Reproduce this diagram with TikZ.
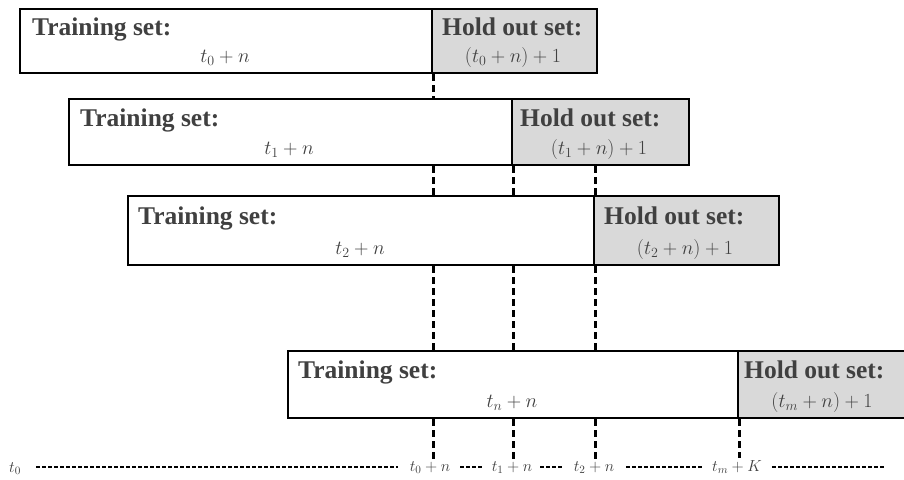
\RequirePackage{fix-cm}
\documentclass[tikz,border=0pt]{standalone}
\usepackage{fontspec}
\setmainfont{Liberation Serif}
\usetikzlibrary{calc}
\definecolor{txt}{HTML}{404040}
\definecolor{holdfill}{HTML}{D9D9D9}
\tikzset{
  trainbox/.style={draw=black, line width=2.2pt, fill=white, inner sep=0pt, anchor=north west},
  holdbox/.style={draw=black, line width=2.2pt, fill=holdfill, inner sep=0pt, anchor=north west},
  title/.style={anchor=base west, inner sep=0pt, text=txt, font=\fontsize{25.5}{29}\selectfont\bfseries},
  mathlab/.style={anchor=base, inner sep=0pt, text=txt, font=\fontsize{20}{24}\selectfont},
  vdash/.style={line width=2.6pt, dash pattern=on 7pt off 4pt},
  axlab/.style={inner sep=0pt, anchor=base, text=txt, font=\fontsize{16}{18}\selectfont},
  axdash/.style={line width=1.3pt, dash pattern=on 4pt off 2pt},
}
\begin{document}
\begin{tikzpicture}[x=1pt,y=-1pt]
\useasboundingbox (0,0) rectangle (904,479);
% row 1
\node[trainbox, minimum width=412pt, minimum height=64pt] (tr1) at (19,8) {};
\node[holdbox, minimum width=165pt, minimum height=64pt] (ho1) at (431,8) {};
% row 2
\node[trainbox, minimum width=443pt, minimum height=66pt] (tr2) at (68,98) {};
\node[holdbox, minimum width=177pt, minimum height=66pt] (ho2) at (511,98) {};
% row 3
\node[trainbox, minimum width=466pt, minimum height=69pt] (tr3) at (127,195) {};
\node[holdbox, minimum width=185pt, minimum height=69pt] (ho3) at (593,195) {};
% row 4
\node[trainbox, minimum width=450pt, minimum height=67pt] (tr4) at (287,350) {};
\node[holdbox, minimum width=172pt, minimum height=67pt] (ho4) at (737,350) {};

% texts
\node[title] (tt1) at (32,35) {Training set:};
\node[mathlab] (tm1) at (225,62) {$t_0+n$};
\node[title] (ht1) at (442,35) {Hold out set:};
\node[mathlab] (hm1) at (513,62) {$(t_0+n)+1$};

\node[title] (tt2) at (80,126) {Training set:};
\node[mathlab] (tm2) at (289,154) {$t_1+n$};
\node[title] (ht2) at (520,126) {Hold out set:};
\node[mathlab] (hm2) at (599,154) {$(t_1+n)+1$};

\node[title] (tt3) at (138,224) {Training set:};
\node[mathlab] (tm3) at (360,254) {$t_2+n$};
\node[title] (ht3) at (604,224) {Hold out set:};
\node[mathlab] (hm3) at (685,254) {$(t_2+n)+1$};

\node[title] (tt4) at (298,378) {Training set:};
\node[mathlab] (tm4) at (512,407) {$t_n+n$};
\node[title] (ht4) at (744,378) {Hold out set:};
\node[mathlab] (hm4) at (822,407) {$(t_m+n)+1$};

% axis labels
\node[axlab] (a0) at (15,472) {$t_0$};
\node[axlab] (a1) at (430,471) {$t_0+n$};
\node[axlab] (a2) at (512,471) {$t_1+n$};
\node[axlab] (a3) at (594,471) {$t_2+n$};
\node[axlab] (a4) at (737,471) {$t_m+K$};
\coordinate (aend) at (884,467);

% vertical dashed lines
\draw[vdash] (tr1.south east) -- (tr1.south east |- tr2.north);
\draw[vdash] (tr1.south east |- tr2.south) -- (tr1.south east |- tr3.north);
\draw[vdash] (tr1.south east |- tr3.south) -- (tr1.south east |- tr4.north);
\draw[vdash] (tr1.south east |- tr4.south) -- ([yshift=2pt]tr1.south east |- a1.north);
\draw[vdash] (tr2.south east) -- (tr2.south east |- tr3.north);
\draw[vdash] (tr2.south east |- tr3.south) -- (tr2.south east |- tr4.north);
\draw[vdash] (tr2.south east |- tr4.south) -- ([yshift=2pt]tr2.south east |- a2.north);
\draw[vdash] (tr3.north east |- tr2.south) -- (tr3.north east);
\draw[vdash] (tr3.south east) -- (tr3.south east |- tr4.north);
\draw[vdash] (tr3.south east |- tr4.south) -- ([yshift=2pt]tr3.south east |- a3.north);
\draw[vdash] (tr4.south east) -- ([yshift=2pt]tr4.south east |- a4.north);

% axis dashes
\draw[axdash] ([xshift=15pt]a0.east |- aend) -- ([xshift=-12pt]a1.west |- aend);
\draw[axdash] ([xshift=10pt]a1.east |- aend) -- ([xshift=-8pt]a2.west |- aend);
\draw[axdash] ([xshift=8pt]a2.east |- aend) -- ([xshift=-12pt]a3.west |- aend);
\draw[axdash] ([xshift=12pt]a3.east |- aend) -- ([xshift=-10pt]a4.west |- aend);
\draw[axdash] ([xshift=10pt]a4.east |- aend) -- (aend);
\end{tikzpicture}
\end{document}
